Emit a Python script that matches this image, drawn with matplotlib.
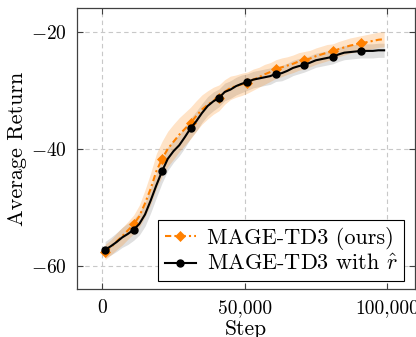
import matplotlib
matplotlib.use('Agg')
import matplotlib.pyplot as plt
import numpy as np
from matplotlib.ticker import FixedLocator, FuncFormatter

plt.rcParams['font.family'] = 'serif'
plt.rcParams['font.serif'] = ['cmr10']
plt.rcParams['mathtext.fontset'] = 'cm'
plt.rcParams['axes.unicode_minus'] = False

# Training steps (evaluations every 2,000 steps)
steps = list(range(1000, 100000, 2000))

# MAGE-TD3 (ours)
ours_mean = [-57.6, -56.8, -55.8, -54.9, -53.9, -52.9, -51.5, -49.3, -46.8, -43.8,
             -41.7, -40.0, -38.8, -37.6, -36.6, -35.6, -34.4, -33.3, -32.5, -31.8,
             -31.3, -30.3, -29.6, -29.3, -29.0, -28.7, -28.2, -27.8, -27.3, -26.9,
             -26.4, -26.1, -25.8, -25.5, -25.1, -24.9, -24.6, -24.2, -23.9, -23.6,
             -23.4, -23.0, -22.7, -22.4, -22.2, -22.0, -21.8, -21.6, -21.4, -21.3]
ours_std = [1.3, 1.3, 1.4, 1.5, 1.5, 1.6, 1.9, 2.3, 2.7, 3.0,
            3.0, 3.0, 3.0, 2.9, 2.8, 2.7, 2.6, 2.5, 2.4, 2.3,
            2.2, 2.1, 2.0, 1.9, 1.9, 1.8, 1.8, 1.7, 1.7, 1.6,
            1.6, 1.6, 1.5, 1.5, 1.5, 1.5, 1.4, 1.4, 1.4, 1.4,
            1.3, 1.3, 1.3, 1.3, 1.3, 1.3, 1.3, 1.3, 1.3, 1.3]

# MAGE-TD3 with r_hat
rhat_mean = [-57.2, -56.6, -55.9, -55.1, -54.5, -53.8, -52.8, -51.2, -48.8, -46.2,
             -43.8, -41.7, -40.4, -39.4, -38.0, -36.5, -35.3, -33.9, -32.7, -31.9,
             -31.3, -30.3, -29.9, -29.3, -28.9, -28.6, -28.2, -28.0, -27.8, -27.6,
             -27.2, -27.1, -26.7, -26.2, -25.9, -25.7, -25.3, -24.9, -24.7, -24.5,
             -24.3, -23.9, -23.6, -23.5, -23.4, -23.3, -23.3, -23.3, -23.2, -23.2]
rhat_std = [1.4, 1.5, 1.6, 1.7, 1.8, 1.8, 1.9, 2.0, 2.1, 2.1,
            2.0, 2.0, 1.9, 1.8, 1.8, 1.7, 1.7, 1.6, 1.6, 1.6,
            1.5, 1.5, 1.5, 1.5, 1.5, 1.4, 1.4, 1.4, 1.4, 1.4,
            1.3, 1.3, 1.3, 1.3, 1.3, 1.2, 1.2, 1.2, 1.2, 1.2,
            1.2, 1.2, 1.2, 1.2, 1.2, 1.2, 1.2, 1.2, 1.2, 1.2]

x_ticks = [0, 50000, 100000]
y_ticks = [-60, -40, -20]

orange = '#ff8000'

fig = plt.figure(figsize=(4.16, 3.37), dpi=100)
ax = fig.add_axes([0.185, 0.1424, 0.813, 0.8336])

x = np.array(steps)
om, os_ = np.array(ours_mean), np.array(ours_std)
rm, rs = np.array(rhat_mean), np.array(rhat_std)

# Shaded bands
ax.fill_between(x, rm - rs, rm + rs, color='#b8b8b8', alpha=0.45, linewidth=0, zorder=2)
ax.fill_between(x, om - os_, om + os_, color=orange, alpha=0.22, linewidth=0, zorder=2)

# Mean curves
ax.plot(x, om, color=orange, linestyle=(0, (3, 1.5, 1, 1.5)), linewidth=1.5,
        marker='D', markersize=5.5, markevery=5, markeredgewidth=0.5,
        label='MAGE-TD3 (ours)', zorder=3)
ax.plot(x, rm, color='black', linestyle='-', linewidth=1.5,
        marker='o', markersize=5, markevery=5,
        label=r'MAGE-TD3 with $\hat{r}$', zorder=4)

# Axes limits and ticks
ax.set_xlim(-8900, 109900)
ax.set_ylim(-63.9, -16.0)
ax.xaxis.set_major_locator(FixedLocator(x_ticks))
ax.yaxis.set_major_locator(FixedLocator(y_ticks))
ax.xaxis.set_major_formatter(FuncFormatter(lambda v, p: f'{v:,.0f}'))
ax.yaxis.set_major_formatter(FuncFormatter(lambda v, p: f'$-{abs(v):.0f}$'))
ax.tick_params(direction='in', length=4, width=0.8, color='#404040',
               labelsize=14, top=True, right=True, pad=7)

ax.grid(True, color='#c8c8c8', linestyle=(0, (4, 3)), linewidth=0.8, zorder=0)
for s in ax.spines.values():
    s.set_color('#404040')
    s.set_linewidth(0.9)

ax.set_xlabel('Step', fontsize=15.5, labelpad=2)
ax.set_ylabel('Average Return', fontsize=16, labelpad=3)

leg = ax.legend(loc='lower right', fontsize=16, frameon=True, fancybox=False,
                framealpha=1, edgecolor='black', borderpad=0.3, handlelength=1.4,
                handletextpad=0.5, labelspacing=0.2, borderaxespad=0,
                bbox_to_anchor=(0.968, 0.028))
leg.get_frame().set_linewidth(0.8)

plt.savefig('out.png', dpi=100)
plt.close()
